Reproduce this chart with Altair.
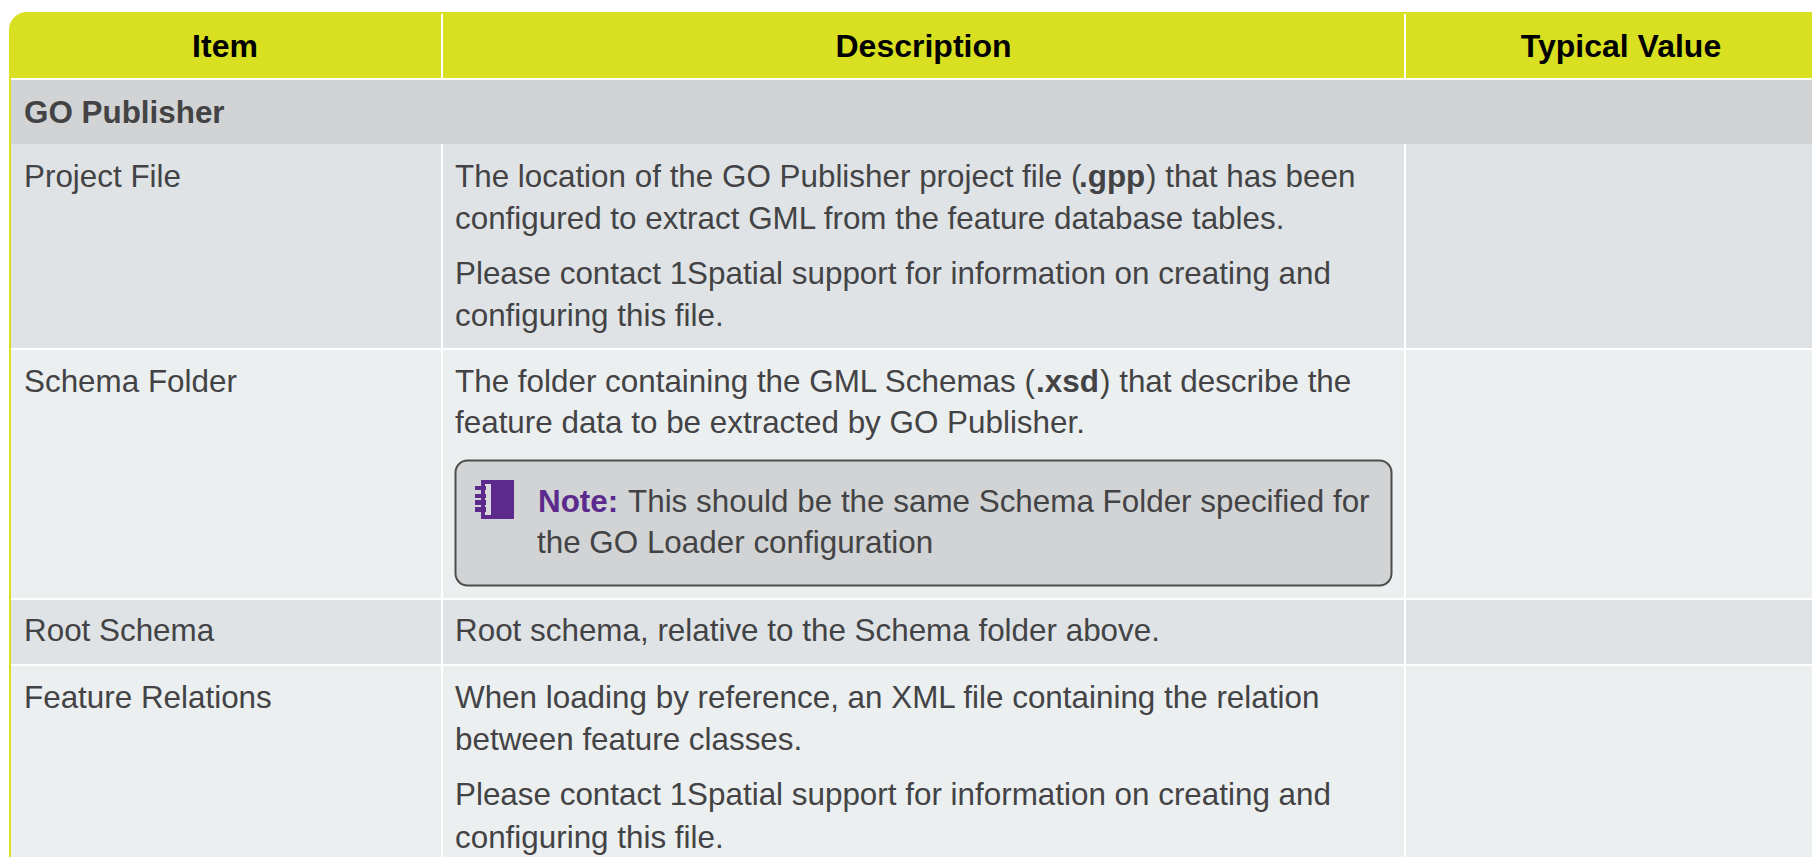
import altair as alt
import pandas as pd

W, H = 1804, 849
FONT = "Liberation Sans"
BODY = 31.4
YELLOW = "#D9E021"
GREY = "#D1D3D4"
DARK_ROW = "#DFE3E6"
LIGHT_ROW = "#EBEFF0"
INK = "#434345"
PURPLE = "#5B2A8C"
RIGHT = 1860
BOTTOM = 870
LEFT = 11

# table rows: top, bottom, fill
row_top = [80, 144, 350, 600, 666]
row_bottom = [144, 348, 598, 664, BOTTOM]
row_fill = [GREY, DARK_ROW, LIGHT_ROW, DARK_ROW, LIGHT_ROW]

# column separators
sep_x = [442, 1405]
header_labels = ["Item", "Description", "Typical Value"]
header_x = [225, 923.5, 1621]
header_base = 56.5

# text runs: text, x, baseline, weight
text_run = [
    "GO Publisher",
    "Project File", "The location of the GO Publisher project file (", ".gpp", ") that has been",
    "configured to extract GML from the feature database tables.",
    "Please contact 1Spatial support for information on creating and",
    "configuring this file.",
    "Schema Folder", "The folder containing the GML Schemas (", ".xsd", ") that describe the",
    "feature data to be extracted by GO Publisher.",
    "This should be the same Schema Folder specified for",
    "the GO Loader configuration",
    "Root Schema", "Root schema, relative to the Schema folder above.",
    "Feature Relations", "When loading by reference, an XML file containing the relation",
    "between feature classes.",
    "Please contact 1Spatial support for information on creating and",
    "configuring this file.",
]
text_x = [24, 24, 455, 1079, 1146, 455, 455, 455, 24, 455, 1036, 1100, 455, 628, 537, 24, 455, 24, 455, 455, 455, 455]
text_base = [122.5, 186.5, 186.5, 186.5, 186.5, 228.5, 283.5, 325.5, 392, 392, 392, 392, 433, 512, 553, 641, 641, 708, 708, 750, 805, 848]
text_bold = [1, 0, 0, 1, 0, 0, 0, 0, 0, 0, 1, 0, 0, 0, 0, 0, 0, 0, 0, 0, 0, 0]

# note box
note_box = dict(x0=455.5, x1=1391.5, y0=460.5, y1=585.5)
note_label = "Note:"
note_label_x = 538
note_label_y = 512

# notebook icon parts
icon_x0 = [481, 485, 475, 475, 475, 475]
icon_x1 = [514, 491, 486, 486, 486, 486]
icon_y0 = [480, 484, 486, 494, 500, 507]
icon_y1 = [519, 515, 490, 498, 505, 512]
icon_fill = [PURPLE, "#D9D9DB", PURPLE, PURPLE, PURPLE, PURPLE]

xs = alt.Scale(domain=[8, 8 + W], range=[0, W], nice=False, zero=False)
ys = alt.Scale(domain=[8, 8 + H], range=[0, H], nice=False, zero=False)
X = alt.X("x0:Q", scale=xs, axis=None)
Y = alt.Y("y0:Q", scale=ys, axis=None)


def rects(df, **mark):
    enc = dict(x=X, x2="x1:Q", y=Y, y2="y1:Q")
    if "fill" in df:
        enc["fill"] = alt.Fill("fill:N", scale=None)
    return alt.Chart(df).mark_rect(clip=True, **mark).encode(**enc)


outline = rects(pd.DataFrame({"x0": [9], "x1": [RIGHT], "y0": [12], "y1": [BOTTOM + 4]}),
                color=YELLOW, cornerRadius=18)
inner = rects(pd.DataFrame({"x0": [LEFT], "x1": [RIGHT], "y0": [78], "y1": [BOTTOM + 2]}),
              color="#FFFFFF", cornerRadiusBottomLeft=16)
rows = pd.DataFrame({"x0": LEFT, "x1": RIGHT, "y0": row_top, "y1": row_bottom, "fill": row_fill})
plain = rects(rows.iloc[:-1])
last = rects(rows.iloc[-1:], cornerRadiusBottomLeft=16)

seps = pd.DataFrame({
    "x0": sep_x * 2,
    "y0": [14, 14, 144, 144],
    "y1": [78, 78, BOTTOM, BOTTOM],
})
sep_layer = alt.Chart(seps).mark_rule(color="#FFFFFF", strokeWidth=2, clip=True).encode(
    x=X, y=Y, y2="y1:Q"
)

note = rects(pd.DataFrame([note_box]), color=GREY, stroke="#4D4D4D", strokeWidth=2, cornerRadius=12)
icon = rects(pd.DataFrame({"x0": icon_x0, "x1": icon_x1, "y0": icon_y0, "y1": icon_y1, "fill": icon_fill}))

hdr = alt.Chart(pd.DataFrame({"x0": header_x, "y0": header_base, "t": header_labels})).mark_text(
    font=FONT, fontSize=32, fontWeight="bold", color="#000000", align="center", baseline="alphabetic"
).encode(x=X, y=Y, text="t:N")

tx = pd.DataFrame({"x0": text_x, "y0": text_base, "t": text_run, "b": text_bold})
body = alt.Chart(tx[tx.b == 0]).mark_text(
    font=FONT, fontSize=BODY, color=INK, align="left", baseline="alphabetic"
).encode(x=X, y=Y, text="t:N")
bold = alt.Chart(tx[tx.b == 1]).mark_text(
    font=FONT, fontSize=BODY, fontWeight="bold", color=INK, align="left", baseline="alphabetic"
).encode(x=X, y=Y, text="t:N")
nl = alt.Chart(pd.DataFrame({"x0": [note_label_x], "y0": [note_label_y], "t": [note_label]})).mark_text(
    font=FONT, fontSize=BODY, fontWeight="bold", color=PURPLE, align="left", baseline="alphabetic"
).encode(x=X, y=Y, text="t:N")

chart = alt.layer(outline, inner, plain, last, sep_layer, note, icon, hdr, body, bold, nl).properties(
    width=W, height=H, padding=0, background="#FFFFFF",
    autosize=alt.AutoSizeParams(type="none"),
).configure_view(stroke=None)

chart.save("out.html", embed_options={"renderer": "svg", "actions": False})
